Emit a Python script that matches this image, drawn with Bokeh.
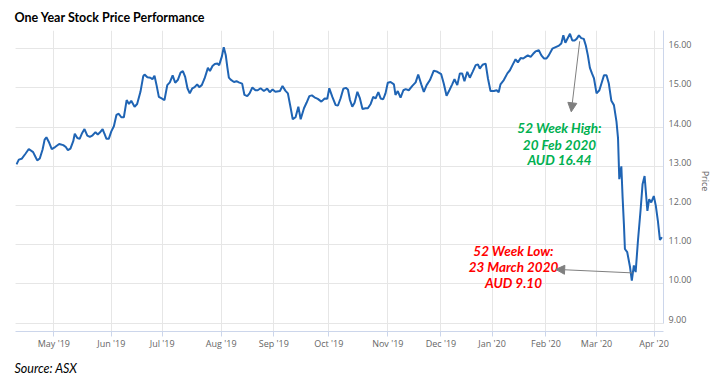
from bokeh.plotting import figure
from bokeh.models import (Range1d, LinearAxis, FixedTicker, Grid, Arrow, NormalHead,
                          Title, ColumnDataSource, PrintfTickFormatter)
from bokeh.core.properties import value
from bokeh.embed import file_html
from bokeh.resources import INLINE

# trading-day index (0 = first trading day shown, ~mid April 2019)
day = [0.0, 0.9, 2.0, 3.5, 4.8, 6.5, 7.2, 8.1, 9.1, 10.2, 11.0, 11.7, 12.8, 13.8, 15.1, 16.7,
       18.3, 19.3, 20.1, 21.1, 22.2, 22.8, 23.8, 24.7, 25.7, 26.6, 27.7, 28.7, 29.6, 30.9,
       31.8, 32.6, 33.7, 34.4, 35.2, 36.1, 37.1, 38.1, 39.1, 40.0, 41.0, 42.0, 43.1, 44.0,
       44.9, 46.2, 47.2, 48.5, 49.6,
       50.1, 51.2, 52.4, 53.2, 54.0, 54.8, 55.7, 56.8, 57.9, 59.0, 60.0, 61.1, 62.1, 63.1,
       64.2, 65.1, 66.0, 66.9, 67.8, 68.8, 69.7, 70.7, 71.5, 72.5, 73.6, 74.9, 75.7, 76.7,
       77.6, 78.6, 79.3, 80.4, 81.1, 81.9, 82.5, 83.1,
       83.8, 85.1, 86.1, 87.0, 88.3, 89.2, 90.3, 91.2, 92.3, 93.5, 94.4, 95.5, 96.8, 98.1,
       99.1, 100.2, 101.3, 103.1, 104.1, 105.2, 106.2, 107.2, 108.1, 109.2, 110.3, 111.2,
       112.5, 113.5, 114.6, 115.6, 116.6, 117.9, 119.3, 120.6, 121.6, 122.4, 123.6, 124.9,
       125.8, 126.8, 127.9, 128.9, 129.7, 130.5, 131.4, 132.3, 133.4, 134.4, 135.4, 136.6,
       137.5, 138.6, 139.6, 140.5, 141.6, 142.5, 143.5, 144.4, 145.3,
       146.4, 147.7, 148.3, 149.2, 150.3, 151.4, 152.3, 153.5, 154.9, 156.2, 157.2, 158.4,
       159.4, 160.5, 161.8, 163.3, 164.7, 166.2, 167.2, 168.3, 169.4, 170.5, 171.4, 172.5,
       173.5, 174.4, 175.3, 176.4, 177.4, 178.5, 179.7, 180.6, 181.3, 182.4, 183.6, 184.5,
       185.5, 186.8, 187.9, 188.7, 189.4, 190.7, 192.1, 193.1, 194.1, 195.3, 196.2,
       197.3, 198.3, 199.2, 200.1, 201.2, 202.2, 203.1, 204.4, 205.4, 206.4, 207.4, 208.3,
       209.7, 211.0, 212.3, 213.2, 214.0, 214.8, 215.5, 216.6, 217.5, 218.4, 219.2, 220.1,
       221.0, 222.0, 222.8, 223.6, 224.4, 225.2, 226.0, 227.0, 228.1, 229.1, 229.9, 230.9,
       231.8, 232.8, 233.8, 234.8, 235.4, 235.9, 236.7, 237.2, 237.7, 238.1, 239.0, 240.1,
       240.8, 241.6, 242.3, 243.2, 244.2, 245.0, 245.8, 246.9, 247.6, 248.4, 249.4, 250.2,
       251.0, 251.8, 252.6]

price = [13.05, 13.17, 13.19, 13.32, 13.44, 13.36, 13.27, 13.15, 13.20, 13.43, 13.68, 13.74,
         13.60, 13.44, 13.49, 13.57, 13.54, 13.49, 13.41, 13.45, 13.64, 13.83, 13.72, 13.70,
         13.85, 13.95, 13.78, 13.75, 13.78, 13.87, 13.81, 13.86, 13.95, 13.83, 13.70, 13.70,
         13.89, 14.02, 14.31, 14.34, 14.25, 14.25, 14.69, 14.59, 14.67, 14.52, 14.59, 14.90,
         15.30,
         15.34, 15.27, 15.26, 15.22, 15.31, 15.07, 14.77, 14.73, 14.69, 15.07, 15.14, 15.32,
         15.13, 15.20, 15.39, 15.43, 15.28, 14.99, 14.86, 14.99, 15.02, 15.09, 15.02, 15.07,
         15.24, 15.51, 15.43, 15.56, 15.61, 15.62, 15.58, 15.81, 16.04, 15.83, 15.53, 15.26,
         15.21, 15.15, 15.17, 15.14, 15.11, 14.82, 14.79, 14.86, 15.01, 14.94, 14.94, 14.99,
         14.92, 14.98, 14.89, 14.96, 14.90, 14.92, 15.05, 14.93, 14.86, 14.52, 14.20, 14.25,
         14.52, 14.20, 14.48, 14.62, 14.79, 14.81, 14.76, 14.72, 14.65, 14.73, 14.72, 14.99,
         14.77, 14.56, 14.55, 14.73, 14.98, 15.00, 14.96, 14.69, 14.52, 14.62, 14.90, 14.73,
         14.46, 14.48, 14.48, 14.59, 14.77, 14.73, 14.89, 14.73, 14.71, 14.86, 15.13,
         15.15, 15.09, 14.82, 14.92, 14.75, 14.94, 14.97, 14.94, 15.05, 15.14, 15.34, 15.09,
         14.90, 15.07, 15.20, 15.44, 15.41, 15.35, 15.11, 14.80, 14.94, 15.09, 15.22, 15.07,
         15.37, 15.37, 15.17, 15.41, 15.26, 15.41, 15.58, 15.60, 15.49, 15.59, 15.62, 15.24,
         14.92, 14.92, 14.94, 14.89, 15.09, 15.20, 15.37, 15.45, 15.58, 15.73, 15.65,
         15.76, 15.75, 15.79, 15.83, 15.79, 15.87, 15.93, 15.96, 15.83, 15.75, 15.75, 15.83,
         16.00, 16.04, 16.08, 16.13, 16.34, 16.15, 16.24, 16.38, 16.21, 16.21, 16.25, 16.34,
         16.27, 16.25, 16.08, 15.83, 15.51, 15.37, 15.24, 14.86, 14.94, 15.15, 15.32, 15.32,
         15.11, 14.67, 14.56, 14.14, 13.72, 12.67, 13.00, 12.20, 11.53, 10.89, 10.81, 10.43,
         10.08, 10.47, 10.30, 11.10, 11.86, 12.54, 12.75, 11.86, 12.16, 12.08, 12.24, 11.99,
         11.61, 11.12, 11.19]

month_ticks = [14.6, 37.1, 57.0, 80.1, 100.7, 122.2, 145.3, 166.1, 186.1, 207.2, 227.0, 249.5]
month_labels = ["May '19", "Jun '19", "Jul '19", "Aug '19", "Sep '19", "Oct '19",
                "Nov '19", "Dec '19", "Jan '20", "Feb '20", "Mar '20", "Apr '20"]
price_ticks = [9, 10, 11, 12, 13, 14, 15, 16]

# annotation texts and anchors (data units)
high_text = ["52 Week High:", "20 Feb 2020", "AUD 16.44"]
high_text_x = [212.5, 212.5, 212.5]
high_text_y = [13.97, 13.55, 13.15]
high_arrow = (220.4, 16.19, 217.1, 14.39)
low_text = ["52 Week Low:", "23 March 2020", "AUD 9.10"]
low_text_x = [194.5, 194.5, 194.5]
low_text_y = [10.85, 10.43, 10.03]
low_arrow = (241.1, 10.28, 211.0, 10.37)

Y0, Y1 = 8.785, 16.464
LAB_SHIFT = 0.101  # tick labels sit just above their grid lines

p = figure(width=716, height=382, output_backend="svg", toolbar_location=None,
           x_range=Range1d(-0.4, 253.2), y_range=Range1d(Y0, Y1),
           y_axis_location=None,
           min_border_left=15, min_border_right=53, min_border_top=30, min_border_bottom=49,
           background_fill_color="white", border_fill_color="white")
p.outline_line_color = None

# title and source
p.title.text = "One Year Stock Price Performance"
p.title.text_font = "Lato"
p.title.text_font_style = "bold"
p.title.text_font_size = "12.5px"
p.title.text_color = "#000000"
p.title.align = "left"
p.title.standoff = 12
p.title.offset = -1

src = Title(text="Source: ASX", text_font="Lato", text_font_style="italic",
            text_font_size="12.5px", text_color="#000000", align="left", standoff=13, offset=-1)
p.add_layout(src, "below")

# x axis
xa = p.xaxis[0]
xa.ticker = FixedTicker(ticks=month_ticks)
xa.major_label_overrides = {t: l for t, l in zip(month_ticks, month_labels)}
xa.axis_line_color = "#ccd6eb"
xa.major_tick_line_color = "#ccd6eb"
xa.major_tick_out = 5
xa.major_tick_in = 0
xa.minor_tick_line_color = None
xa.major_label_standoff = 0
xa.major_label_text_font = "Open Sans"
xa.major_label_text_font_size = "9px"
xa.major_label_text_color = "#666666"
p.xgrid.grid_line_color = "#e6e6e6"

# y grid on the price scale
p.add_layout(Grid(dimension=1, ticker=FixedTicker(ticks=price_ticks), grid_line_color="#e6e6e6"))

# right price axis
p.extra_y_ranges = {"lab": Range1d(Y0 - LAB_SHIFT, Y1 - LAB_SHIFT)}
ya = LinearAxis(y_range_name="lab", ticker=FixedTicker(ticks=price_ticks),
                formatter=PrintfTickFormatter(format="%.2f"),
                bounds=(9.0 - LAB_SHIFT, Y1 - LAB_SHIFT),
                axis_label="Price", axis_label_text_font="Open Sans",
                axis_label_text_font_size="9px", axis_label_text_color="#666666",
                axis_label_text_font_style="normal", axis_label_standoff=5)
ya.axis_line_color = "#ccd6eb"
ya.major_tick_out = 0
ya.major_tick_in = 0
ya.minor_tick_line_color = None
ya.major_tick_line_color = None
ya.major_label_standoff = 5
ya.major_label_text_font = "Open Sans"
ya.major_label_text_font_size = "9px"
ya.major_label_text_color = "#666666"
p.add_layout(ya, "right")

# price line
p.line(day, price, line_color="#1f64b4", line_width=2)

# annotations
hs = ColumnDataSource(dict(x=high_text_x, y=high_text_y, text=high_text))
p.text(x="x", y="y", text="text", source=hs, text_font=value("Lato"),
       text_font_style="bold italic", text_font_size="13.5px", text_color="#00b050",
       text_align="center", text_baseline="middle")
ls = ColumnDataSource(dict(x=low_text_x, y=low_text_y, text=low_text))
p.text(x="x", y="y", text="text", source=ls, text_font=value("Lato"),
       text_font_style="bold italic", text_font_size="13.5px", text_color="#ff0000",
       text_align="center", text_baseline="middle")

for (xs, ys, xe, ye) in (high_arrow, low_arrow):
    p.add_layout(Arrow(end=NormalHead(size=9, fill_color="#7f7f7f", line_color="#7f7f7f"),
                       x_start=xs, y_start=ys, x_end=xe, y_end=ye,
                       line_color="#7f7f7f", line_width=1))

open("out.html", "w").write(file_html(p, INLINE))
